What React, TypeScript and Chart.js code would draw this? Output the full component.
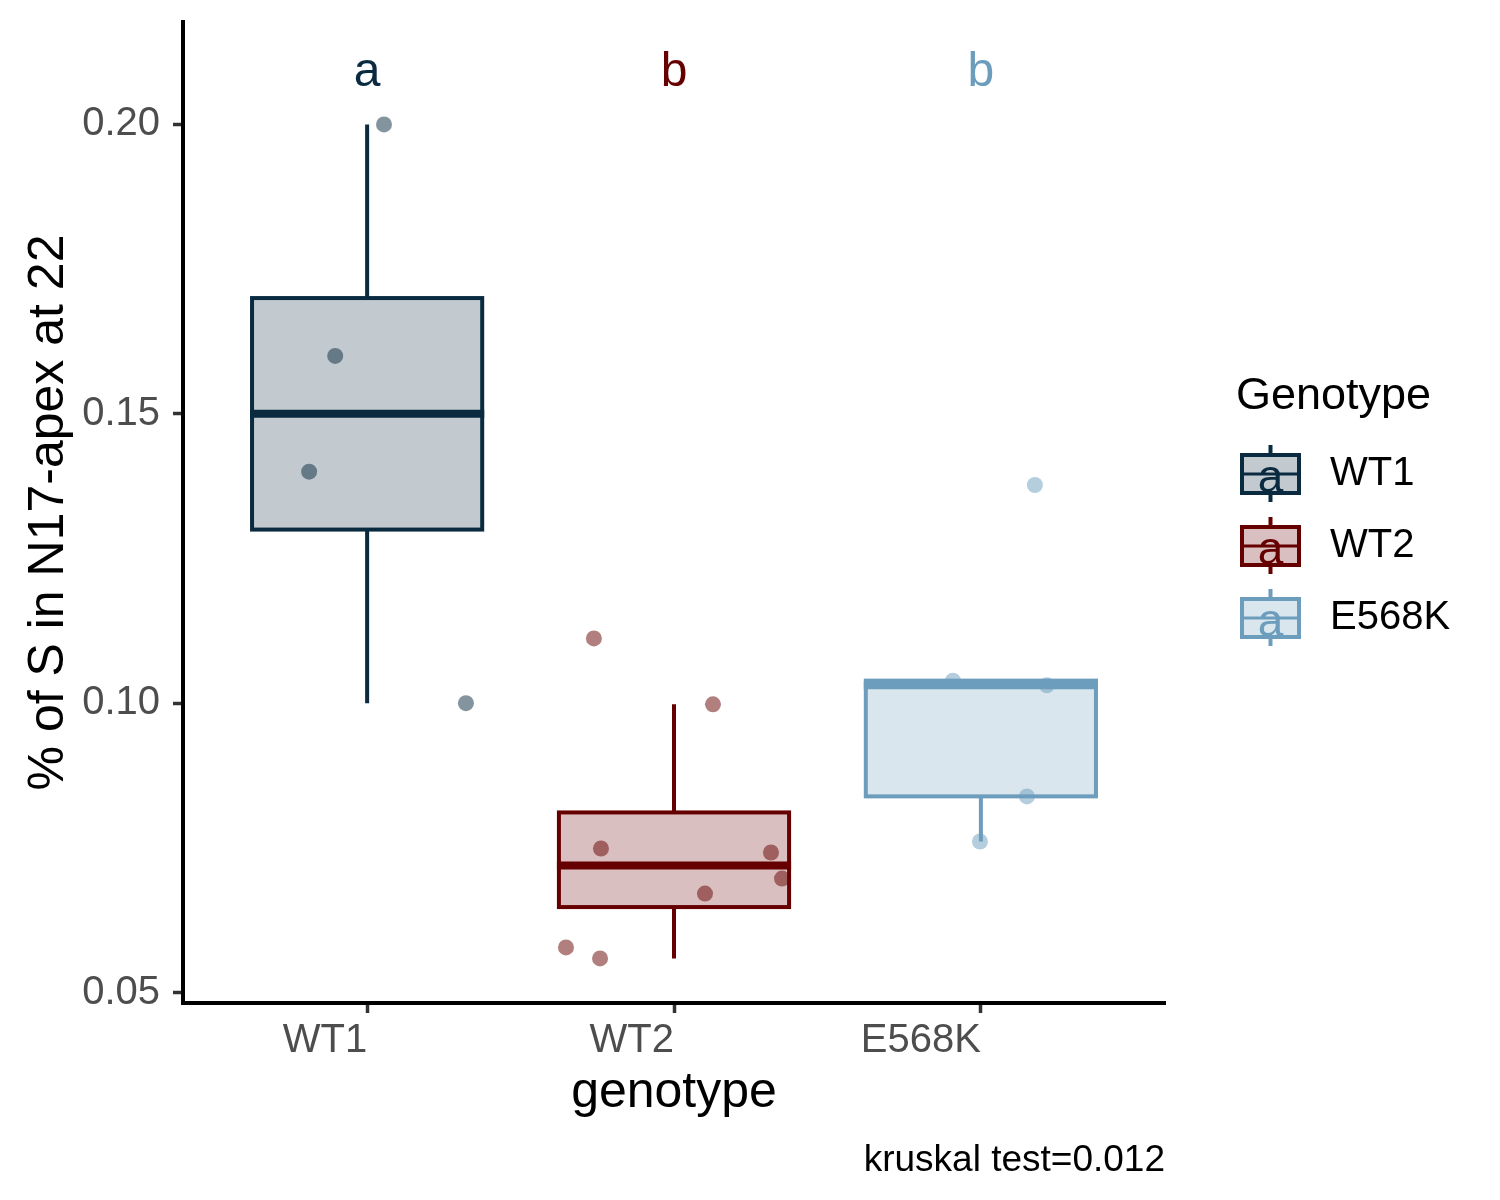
import { useEffect, useRef } from 'react';
import { Chart, registerables } from 'chart.js';
Chart.register(...registerables);

// categories and their colours
const genotypes = ['WT1', 'WT2', 'E568K'];
const lineColors = ['#0A2A40', '#660000', '#6C9DBD'];
const groupLetters = ['a', 'b', 'b'];
const letterY = 0.209;

// measured values (jitter = horizontal offset in category units)
const wt1Values = [0.2, 0.16, 0.14, 0.1];
const wt1Jitter = [0.055, -0.104, -0.189, 0.322];
const wt2Values = [0.1112, 0.0998, 0.0749, 0.0742, 0.0697, 0.0671, 0.0578, 0.0559];
const wt2Jitter = [-0.261, 0.127, -0.238, 0.316, 0.352, 0.101, -0.352, -0.241];
const e568kValues = [0.1039, 0.1031, 0.0839, 0.0761, 0.1377];
const e568kJitter = [-0.091, 0.215, 0.15, -0.003, 0.176];

const yTicks = [0.05, 0.1, 0.15, 0.2];
const caption = 'kruskal test=0.012';

const groups = [wt1Values, wt2Values, e568kValues];
const jitters = [wt1Jitter, wt2Jitter, e568kJitter];

const FONT = '"Liberation Sans", Arial, Helvetica, sans-serif';

function rgba(hex: string, a: number) {
  const n = parseInt(hex.slice(1), 16);
  return `rgba(${(n >> 16) & 255},${(n >> 8) & 255},${n & 255},${a})`;
}

function quantile(sorted: number[], p: number) {
  const h = (sorted.length - 1) * p;
  const lo = Math.floor(h);
  const hi = Math.ceil(h);
  return sorted[lo] + (sorted[hi] - sorted[lo]) * (h - lo);
}

function boxStats(vals: number[]) {
  const s = [...vals].sort((a, b) => a - b);
  const q1 = quantile(s, 0.25);
  const med = quantile(s, 0.5);
  const q3 = quantile(s, 0.75);
  const iqr = q3 - q1;
  const lo = Math.min(...s.filter(v => v >= q1 - 1.5 * iqr));
  const hi = Math.max(...s.filter(v => v <= q3 + 1.5 * iqr));
  return { q1, med, q3, lo, hi };
}

const boxPlugin = {
  id: 'boxes',
  afterDatasetsDraw(chart: any) {
    const { ctx, scales: { x, y } } = chart;
    ctx.save();
    ctx.lineCap = 'butt';
    groups.forEach((vals, i) => {
      const st = boxStats(vals);
      const c = lineColors[i];
      const cx = x.getPixelForValue(i + 1);
      const l = x.getPixelForValue(i + 1 - 0.375);
      const r = x.getPixelForValue(i + 1 + 0.375);
      const top = y.getPixelForValue(st.q3);
      const bot = y.getPixelForValue(st.q1);
      ctx.strokeStyle = c;
      ctx.lineWidth = 4;
      ctx.beginPath();
      ctx.moveTo(cx, y.getPixelForValue(st.hi));
      ctx.lineTo(cx, top);
      ctx.moveTo(cx, bot);
      ctx.lineTo(cx, y.getPixelForValue(st.lo));
      ctx.stroke();
      ctx.fillStyle = rgba(c, 0.25);
      ctx.fillRect(l, top, r - l, bot - top);
      ctx.strokeRect(l, top, r - l, bot - top);
      ctx.lineWidth = 8;
      const m = y.getPixelForValue(st.med);
      ctx.beginPath();
      ctx.moveTo(l - 2, m);
      ctx.lineTo(r + 2, m);
      ctx.stroke();

      ctx.fillStyle = c;
      ctx.font = `48px ${FONT}`;
      ctx.textAlign = 'center';
      ctx.textBaseline = 'middle';
      ctx.fillText(groupLetters[i], cx, y.getPixelForValue(letterY));
    });
    ctx.restore();
  },
  afterDraw(chart: any) {
    const { ctx, chartArea } = chart;
    ctx.save();
    // caption
    ctx.fillStyle = '#000';
    ctx.font = `37px ${FONT}`;
    ctx.textAlign = 'right';
    ctx.textBaseline = 'alphabetic';
    ctx.fillText(caption, chartArea.right, 1171);

    // legend
    const lx = chartArea.right + 71;
    ctx.textAlign = 'left';
    ctx.font = `45px ${FONT}`;
    ctx.fillText('Genotype', lx, 409);
    genotypes.forEach((g, i) => {
      const cy = 474 + i * 72;
      const c = lineColors[i];
      const kx = lx + 6;
      const kw = 57;
      const kh = 38;
      const kc = kx + kw / 2;
      ctx.strokeStyle = c;
      ctx.lineWidth = 4;
      ctx.beginPath();
      ctx.moveTo(kc, cy - 29);
      ctx.lineTo(kc, cy + 28);
      ctx.stroke();
      ctx.fillStyle = '#fff';
      ctx.fillRect(kx, cy - kh / 2, kw, kh);
      ctx.fillStyle = rgba(c, 0.25);
      ctx.fillRect(kx, cy - kh / 2, kw, kh);
      ctx.strokeRect(kx, cy - kh / 2, kw, kh);
      ctx.lineWidth = 3;
      ctx.beginPath();
      ctx.moveTo(kx, cy);
      ctx.lineTo(kx + kw, cy);
      ctx.stroke();
      ctx.fillStyle = c;
      ctx.font = `46px ${FONT}`;
      ctx.textAlign = 'center';
      ctx.textBaseline = 'middle';
      ctx.fillText('a', kc, cy + 5);
      ctx.fillStyle = '#000';
      ctx.font = `40px ${FONT}`;
      ctx.textAlign = 'left';
      ctx.fillText(g, lx + 94, cy);
    });
    ctx.restore();
  },
};

export default function App() {
  const canvasRef = useRef<HTMLCanvasElement>(null);
  const chartRef = useRef<Chart | null>(null);

  useEffect(() => {
    if (!canvasRef.current) return;
    if (chartRef.current) chartRef.current.destroy();

    const datasets = groups.map((vals, i) => ({
      label: genotypes[i],
      data: vals.map((v, j) => ({ x: i + 1 + jitters[i][j], y: v })),
      backgroundColor: rgba(lineColors[i], 0.5),
      borderWidth: 0,
      pointRadius: 8,
      pointHoverRadius: 8,
    }));

    chartRef.current = new Chart(canvasRef.current, {
      type: 'scatter',
      data: { datasets },
      plugins: [boxPlugin],
      options: {
        responsive: false,
        animation: false,
        devicePixelRatio: 1,
        events: [],
        layout: { padding: { left: 0, top: 22, right: 335, bottom: 0 } },
        plugins: { legend: { display: false }, tooltip: { enabled: false } },
        scales: {
          x: {
            type: 'linear',
            min: 0.4,
            max: 3.6,
            afterBuildTicks: (ax: any) => { ax.ticks = genotypes.map((_, i) => ({ value: i + 1 })); },
            afterFit: (s: any) => { s.height = 197; s.paddingLeft = 0; s.paddingRight = 0; },
            ticks: {
              callback: (v: any) => genotypes[Number(v) - 1],
              align: 'end',
              maxRotation: 0,
              autoSkip: false,
              padding: 4,
              color: '#4D4D4D',
              font: { size: 40, family: FONT },
            },
            grid: { drawOnChartArea: false, drawTicks: true, tickLength: 10, tickWidth: 3.5, tickColor: '#333333' },
            border: { display: true, color: '#000', width: 4 },
            title: {
              display: true,
              text: 'genotype',
              color: '#000',
              font: { size: 50, family: FONT },
              padding: { top: 0, bottom: 77 },
            },
          },
          y: {
            type: 'linear',
            min: 0.0482,
            max: 0.2177,
            afterBuildTicks: (ax: any) => { ax.ticks = yTicks.map(v => ({ value: v })); },
            afterFit: (s: any) => { s.width = 183; s.paddingTop = 0; s.paddingBottom = 0; },
            ticks: {
              callback: (v: any) => Number(v).toFixed(2),
              padding: 13,
              color: '#4D4D4D',
              font: { size: 40, family: FONT },
            },
            grid: { drawOnChartArea: false, drawTicks: true, tickLength: 10, tickWidth: 3.5, tickColor: '#333333' },
            border: { display: true, color: '#000', width: 4 },
            title: {
              display: true,
              text: '% of S in N17-apex at 22',
              color: '#000',
              font: { size: 50, family: FONT },
              padding: { top: 19, bottom: 0 },
            },
          },
        },
      },
    } as any);

    return () => { chartRef.current?.destroy(); };
  }, []);

  return (
    <div style={{ position: 'absolute', left: 0, top: 0, width: 1500, height: 1200, background: '#fff' }}>
      <canvas ref={canvasRef} width={1500} height={1200} role="img" aria-label="Genotype boxplot" />
    </div>
  );
}
